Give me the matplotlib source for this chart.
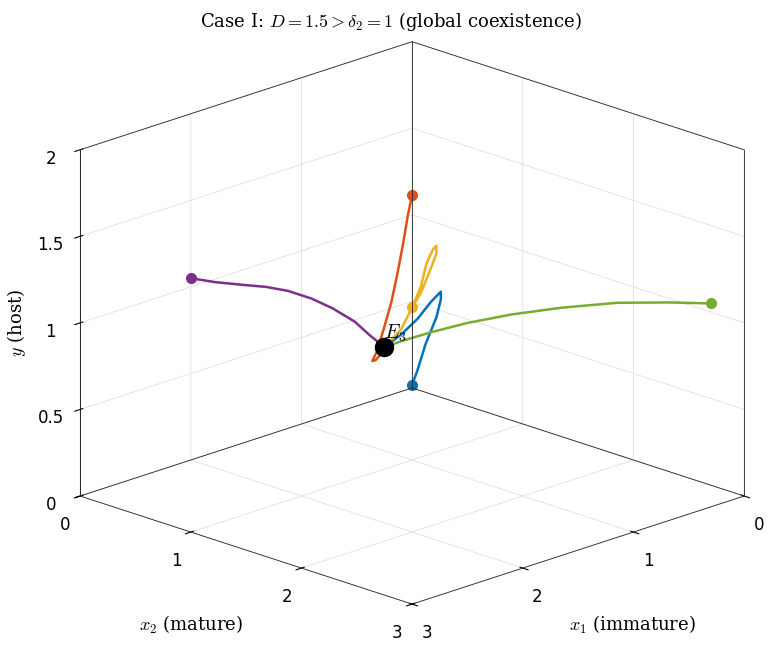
import matplotlib
matplotlib.use("Agg")
import matplotlib.pyplot as plt
import numpy as np

plt.rcParams['mathtext.fontset'] = 'cm'

colors = ['#0072BD', '#D95319', '#EDB120', '#7E2F8E', '#77AC30']
E3 = (1.0, 0.75, 0.6)

traj_blue_x1 = [0.2, 0.25, 0.3, 0.3, 0.32, 0.36, 0.45, 0.6, 0.8, 1.0]
traj_blue_x2 = [0.2, 0.3, 0.42, 0.52, 0.58, 0.62, 0.62, 0.65, 0.7, 0.75]
traj_blue_y = [0.1, 0.22, 0.4, 0.58, 0.7, 0.76, 0.72, 0.66, 0.62, 0.6]

traj_orange_x1 = [0.2, 0.28, 0.38, 0.5, 0.65, 0.82, 0.98, 1.08, 1.1, 1.06, 1.0]
traj_orange_x2 = [0.2, 0.24, 0.3, 0.37, 0.46, 0.56, 0.66, 0.72, 0.77, 0.78, 0.75]
traj_orange_y = [1.2, 1.1, 0.98, 0.85, 0.72, 0.62, 0.55, 0.53, 0.55, 0.58, 0.6]

traj_yellow_x1 = [0.2, 0.2, 0.22, 0.26, 0.32, 0.38, 0.44, 0.52, 0.65, 0.8, 1.0]
traj_yellow_x2 = [0.2, 0.28, 0.38, 0.48, 0.54, 0.57, 0.57, 0.6, 0.64, 0.7, 0.75]
traj_yellow_y = [0.55, 0.65, 0.8, 0.93, 1.0, 1.0, 0.93, 0.82, 0.72, 0.65, 0.6]

traj_purple_x1 = [2.0, 1.8, 1.6, 1.42, 1.28, 1.16, 1.08, 1.02, 1.0, 1.0]
traj_purple_x2 = [0.0, 0.02, 0.05, 0.1, 0.16, 0.25, 0.36, 0.5, 0.62, 0.75]
traj_purple_y = [1.05, 0.99, 0.94, 0.9, 0.86, 0.81, 0.76, 0.7, 0.64, 0.6]

traj_green_x1 = [0.0, 0.08, 0.2, 0.35, 0.5, 0.65, 0.8, 0.92, 1.0]
traj_green_x2 = [2.7, 2.4, 2.05, 1.7, 1.4, 1.15, 0.97, 0.84, 0.75]
traj_green_y = [1.05, 1.01, 0.96, 0.89, 0.82, 0.75, 0.69, 0.64, 0.6]

trajs = [(traj_blue_x1, traj_blue_x2, traj_blue_y),
         (traj_orange_x1, traj_orange_x2, traj_orange_y),
         (traj_yellow_x1, traj_yellow_x2, traj_yellow_y),
         (traj_purple_x1, traj_purple_x2, traj_purple_y),
         (traj_green_x1, traj_green_x2, traj_green_y)]

fig = plt.figure(figsize=(7.82, 6.49), dpi=100)
ax = fig.add_axes([-0.045, -0.047, 1.12, 1.07], projection='3d', proj_type='ortho')
ax.view_init(elev=19, azim=45)

for (a, b, c), col in zip(trajs, colors):
    ax.plot(a, b, c, color=col, lw=1.8)
    ax.plot([a[0]], [b[0]], [c[0]], 'o', color=col, ms=7)

ax.plot([E3[0]], [E3[1]], [E3[2]], 'o', color='black', ms=13)
ax.text(E3[0], E3[1], E3[2] + 0.05, '$E_3$', fontsize=14)

# box outline (MATLAB 'box on')
for xs, ys, zs in [([3, 3], [0, 0], [0, 2]), ([0, 0], [3, 3], [0, 2]), ([0, 0], [0, 0], [0, 2]),
                   ([3, 0], [0, 0], [2, 2]), ([0, 0], [0, 3], [2, 2]),
                   ([3, 0], [0, 0], [0, 0]), ([0, 0], [0, 3], [0, 0])]:
    ax.plot(xs, ys, zs, color='#262626', lw=0.6)

ax.set_xlim(0, 3); ax.set_ylim(0, 3); ax.set_zlim(0, 2)
ax.set_xticks([0, 1, 2, 3]); ax.set_yticks([0, 1, 2, 3])
ax.set_zticks([0, 0.5, 1, 1.5, 2])
ax.set_zticklabels(['0', '0.5', '1', '1.5', '2'])
ax.xaxis.set_rotate_label(False)
ax.yaxis.set_rotate_label(False)
ax.set_xlabel('$x_1$ (immature)', fontsize=13, family='DejaVu Serif', labelpad=22, rotation=0)
ax.set_ylabel('$x_2$ (mature)', fontsize=13, family='DejaVu Serif', labelpad=22, rotation=0)
ax.zaxis.set_rotate_label(False)
ax.set_zlabel('$y$ (host)', fontsize=13, family='DejaVu Serif', rotation=90)
for axis in (ax.xaxis, ax.yaxis, ax.zaxis):
    axis.set_pane_color((1, 1, 1, 0))
    axis._axinfo['grid']['color'] = (0.88, 0.88, 0.88, 1)
    axis._axinfo['grid']['linewidth'] = 0.6
    axis.line.set_color('#262626'); axis.line.set_linewidth(0.6)
ax.tick_params(labelsize=12)
ax.set_box_aspect((1, 1, 0.78), zoom=1.06)
fig.suptitle(r'Case I: $D=1.5>\delta_2=1$ (global coexistence)', fontsize=13,
             family='DejaVu Serif', y=0.985)
fig.savefig('out.png', dpi=100)
